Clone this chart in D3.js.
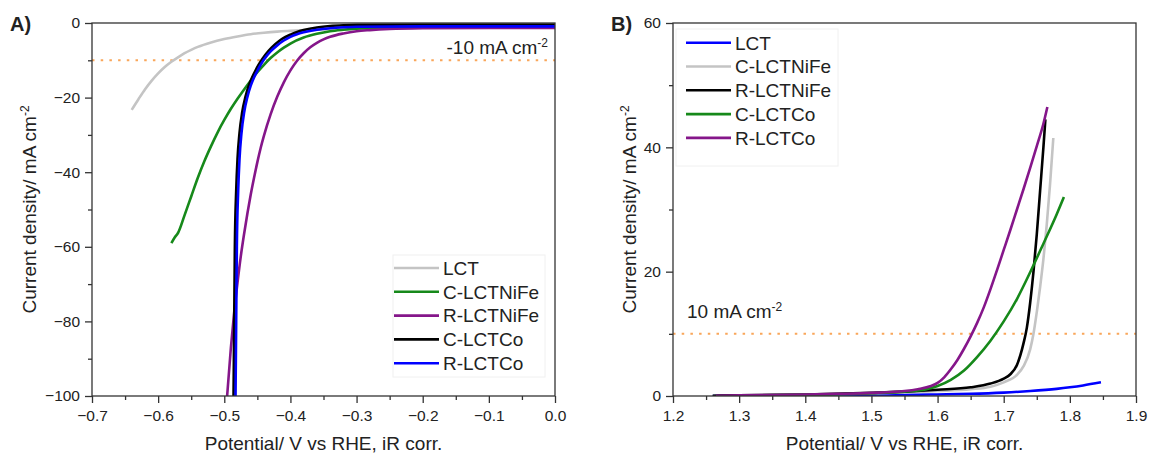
<!DOCTYPE html>
<html><head><meta charset="utf-8">
<script src="https://cdn.jsdelivr.net/npm/d3@7"></script>
<style>
body{margin:0;background:#fff}
text{font-family:Arial,"Liberation Sans",sans-serif;fill:#222}
</style>
</head><body><svg id="c" width="1150" height="454"></svg>
<script>
// ---------- DATA ----------
// Panel A (HER): [potential V, current density mA cm-2]
const herLCT = [[-0.64,-23.3],[-0.63,-20.5],[-0.62,-17.8],[-0.61,-15.5],[-0.60,-13.5],[-0.59,-11.8],[-0.58,-10.4],[-0.57,-9.2],[-0.56,-8.1],[-0.55,-7.2],[-0.54,-6.4],[-0.52,-5.2],[-0.50,-4.3],[-0.48,-3.6],[-0.46,-3.0],[-0.44,-2.6],[-0.42,-2.3],[-0.40,-2.1],[-0.35,-1.7],[-0.30,-1.4],[-0.25,-1.2],[-0.20,-1.1],[-0.10,-1.0],[0.0,-0.9]];
const herCNiFe = [[-0.58,-59],[-0.575,-57.5],[-0.57,-56.3],[-0.56,-51.5],[-0.55,-46.5],[-0.54,-41.5],[-0.53,-37],[-0.52,-33],[-0.51,-29.3],[-0.50,-26],[-0.49,-23],[-0.48,-20.3],[-0.47,-17.8],[-0.46,-15.4],[-0.45,-13.2],[-0.44,-11.2],[-0.43,-9.4],[-0.42,-7.9],[-0.41,-6.6],[-0.40,-5.5],[-0.38,-3.9],[-0.36,-2.9],[-0.34,-2.2],[-0.32,-1.8],[-0.30,-1.5],[-0.25,-1.2],[-0.20,-1.1],[0.0,-1.0]];
const herRNiFe = [[-0.4957,-100],[-0.49,-87],[-0.485,-77.5],[-0.48,-69.6],[-0.475,-62.5],[-0.47,-56.5],[-0.465,-51],[-0.46,-46],[-0.455,-41.5],[-0.45,-37.3],[-0.445,-33.5],[-0.44,-30.2],[-0.43,-24.5],[-0.42,-19.8],[-0.41,-15.9],[-0.40,-12.7],[-0.39,-10.1],[-0.38,-8.1],[-0.37,-6.5],[-0.36,-5.3],[-0.35,-4.4],[-0.34,-3.7],[-0.32,-2.8],[-0.30,-2.2],[-0.28,-1.9],[-0.25,-1.6],[-0.20,-1.4],[-0.10,-1.3],[0.0,-1.3]];
const herCCo = [[-0.486,-100],[-0.485,-80],[-0.484,-60],[-0.482,-45],[-0.480,-36.5],[-0.477,-29.5],[-0.473,-24],[-0.468,-19.8],[-0.463,-16.8],[-0.458,-14.6],[-0.453,-12.8],[-0.448,-11.2],[-0.443,-9.8],[-0.433,-7.5],[-0.423,-5.7],[-0.413,-4.3],[-0.40,-3.1],[-0.39,-2.4],[-0.38,-1.9],[-0.36,-1.2],[-0.34,-0.8],[-0.32,-0.6],[-0.30,-0.5],[-0.20,-0.4],[0.0,-0.4]];
const herRCo = [[-0.483,-100],[-0.482,-80],[-0.481,-60],[-0.479,-45],[-0.477,-36.5],[-0.474,-29.5],[-0.470,-24],[-0.465,-19.8],[-0.46,-16.8],[-0.455,-14.6],[-0.45,-12.8],[-0.445,-11.2],[-0.44,-9.8],[-0.435,-8.6],[-0.43,-7.6],[-0.42,-6.0],[-0.41,-4.7],[-0.40,-3.7],[-0.39,-3.0],[-0.38,-2.5],[-0.36,-1.8],[-0.34,-1.4],[-0.32,-1.15],[-0.30,-1.0],[-0.20,-0.9],[0.0,-0.9]];

// Panel B (OER)
const oerLCT = [[1.26,0.0],[1.4,0.05],[1.5,0.1],[1.6,0.25],[1.65,0.35],[1.7,0.55],[1.74,0.8],[1.78,1.15],[1.8,1.4],[1.82,1.7],[1.847,2.2]];
const oerCNiFe = [[1.3,0.1],[1.4,0.2],[1.5,0.4],[1.6,0.8],[1.65,1.1],[1.68,1.5],[1.70,2.2],[1.72,3.4],[1.73,4.8],[1.74,7.5],[1.745,10],[1.75,13.5],[1.755,17.5],[1.76,22],[1.765,27.5],[1.77,34],[1.775,41.5]];
const oerRNiFe = [[1.26,0.05],[1.3,0.1],[1.4,0.25],[1.5,0.5],[1.55,0.7],[1.6,1.0],[1.65,1.4],[1.68,2.0],[1.70,2.8],[1.71,3.5],[1.72,5.0],[1.73,8.5],[1.735,11],[1.74,15],[1.745,20],[1.75,26],[1.755,33],[1.76,40],[1.763,44.5]];
const oerCCo = [[1.32,0.1],[1.4,0.2],[1.5,0.45],[1.55,0.7],[1.58,1.0],[1.60,1.6],[1.62,2.6],[1.64,4.1],[1.66,6.3],[1.68,8.9],[1.70,12.0],[1.72,15.6],[1.74,19.9],[1.76,24.5],[1.78,29.2],[1.791,32]];
const oerRCo = [[1.265,0.05],[1.3,0.1],[1.4,0.25],[1.45,0.35],[1.5,0.5],[1.55,0.8],[1.57,1.1],[1.59,1.6],[1.60,2.1],[1.61,3.0],[1.62,4.3],[1.63,5.8],[1.64,7.6],[1.65,9.6],[1.66,11.8],[1.67,14.3],[1.68,17.2],[1.69,20.3],[1.70,23.5],[1.71,26.7],[1.72,30],[1.73,33.3],[1.74,36.7],[1.75,40.2],[1.76,43.8],[1.766,46.5]];

const seriesNames = ["LCT","C-LCTNiFe","R-LCTNiFe","C-LCTCo","R-LCTCo"];
const herColors = ["#c4c4c4","#16891a","#85168a","#000000","#0000ff"];
const oerColors = ["#0000ff","#c4c4c4","#000000","#16891a","#85168a"];

const herXTicks = [-0.7,-0.6,-0.5,-0.4,-0.3,-0.2,-0.1,0.0];
const herYTicks = [0,-20,-40,-60,-80,-100];
const oerXTicks = [1.2,1.3,1.4,1.5,1.6,1.7,1.8,1.9];
const oerYTicks = [0,20,40,60];
const herRef = -10, oerRef = 10;
const herRefLabel = "-10 mA cm", oerRefLabel = "10 mA cm";
const xTitle = "Potential/ V vs RHE, iR corr.";
const yTitle = "Current density/ mA cm";

// ---------- DRAW ----------
const svg = d3.select("#c");
const AX = "#333";

function supText(sel, main, sup, supSize){
  sel.append("tspan").text(main);
  sel.append("tspan").attr("dy",-7).attr("font-size",supSize).text(sup);
}

function panel(o){
  const x = d3.scaleLinear().domain(o.xDomain).range([o.L,o.R]);
  const y = d3.scaleLinear().domain(o.yDomain).range([o.B,o.T]);
  const g = svg.append("g");
  const clipId = "clip"+o.id;
  svg.append("clipPath").attr("id",clipId).append("rect")
    .attr("x",o.L).attr("y",o.T).attr("width",o.R-o.L).attr("height",o.B-o.T);

  // reference line
  g.append("line").attr("x1",o.L).attr("x2",o.R).attr("y1",y(o.ref)).attr("y2",y(o.ref))
    .attr("stroke","#f9a65a").attr("stroke-width",2).attr("stroke-dasharray","2.5,6.2");
  const rt = g.append("text").attr("x",o.refX).attr("y",o.refY).attr("font-size",19)
    .attr("text-anchor",o.refAnchor);
  supText(rt,o.refLabel,"-2",12);

  // curves
  const line = d3.line().x(d=>x(d[0])).y(d=>y(d[1])).curve(d3.curveMonotoneX);
  const cg = g.append("g").attr("clip-path",`url(#${clipId})`);
  o.order.forEach(i=>{
    cg.append("path").datum(o.data[i]).attr("d",line).attr("fill","none")
      .attr("stroke",o.colors[i]).attr("stroke-width",2.6).attr("stroke-linejoin","round");
  });

  // axes
  const fmtX = d3.format(".1f"), fmtY = d3.format("d");
  const step = o.xTicks[1]-o.xTicks[0];
  const xMinor = o.xTicks.slice(0,-1).map(v=>v+step/2);
  const ystep = o.yTicks[1]-o.yTicks[0];
  const yMinor = o.yTicks.slice(0,-1).map(v=>v+ystep/2);
  const xa = g.append("g").attr("transform",`translate(0,${o.B})`)
    .call(d3.axisBottom(x).tickValues(o.xTicks).tickSize(7).tickPadding(7).tickFormat(fmtX));
  const xm = g.append("g").attr("transform",`translate(0,${o.B})`)
    .call(d3.axisBottom(x).tickValues(xMinor).tickSize(4).tickFormat(""));
  const ya = g.append("g").attr("transform",`translate(${o.L},0)`)
    .call(d3.axisLeft(y).tickValues(o.yTicks).tickSize(7).tickPadding(5).tickFormat(fmtY));
  const ym = g.append("g").attr("transform",`translate(${o.L},0)`)
    .call(d3.axisLeft(y).tickValues(yMinor).tickSize(4).tickFormat(""));
  [xa,xm,ya,ym].forEach(a=>{
    a.select(".domain").remove();
    a.selectAll("line").attr("stroke",AX).attr("stroke-width",1.3);
    a.selectAll("text").attr("font-size",15.5).attr("font-family","Arial, 'Liberation Sans', sans-serif").attr("fill","#222");
  });
  g.append("rect").attr("x",o.L).attr("y",o.T).attr("width",o.R-o.L).attr("height",o.B-o.T)
    .attr("fill","none").attr("stroke",AX).attr("stroke-width",1.3);

  // titles
  g.append("text").attr("x",(o.L+o.R)/2).attr("y",450).attr("text-anchor","middle")
    .attr("font-size",19).text(xTitle);
  const yt = g.append("text").attr("transform",`translate(${o.yTitleX},${(o.T+o.B)/2}) rotate(-90)`)
    .attr("text-anchor","middle").attr("font-size",19);
  supText(yt,yTitle,"-2",12);
  g.append("text").attr("x",o.tagX).attr("y",31).attr("font-size",20).attr("font-weight","bold")
    .attr("fill","#000").text(o.tag);

  // legend
  const lg = g.append("g");
  lg.append("rect").attr("x",o.legX).attr("y",o.legY).attr("width",o.legW).attr("height",o.legH)
    .attr("fill","#fff").attr("stroke","#f0f0f0").attr("stroke-width",1);
  seriesNames.forEach((n,i)=>{
    const yy = o.legRow0 + i*23.8;
    lg.append("line").attr("x1",o.legLine0).attr("x2",o.legLine0+45).attr("y1",yy).attr("y2",yy)
      .attr("stroke",o.colors[i]).attr("stroke-width",2.6);
    lg.append("text").attr("x",o.legLine0+49).attr("y",yy).attr("dy","0.36em")
      .attr("font-size",19).text(n);
  });
}

panel({id:"A",L:92,R:555,T:23,B:396,xDomain:[-0.7,0],yDomain:[-100,0],
  xTicks:herXTicks,yTicks:herYTicks,data:[herLCT,herCNiFe,herRNiFe,herCCo,herRCo],
  colors:herColors,order:[0,1,2,3,4],ref:herRef,refLabel:herRefLabel,refX:548,refY:54,refAnchor:"end",
  yTitleX:36,tag:"A)",tagX:10,legX:393,legY:255,legW:152,legH:122,legRow0:268,legLine0:394});

panel({id:"B",L:673,R:1136,T:23,B:396,xDomain:[1.2,1.9],yDomain:[0,60],
  xTicks:oerXTicks,yTicks:oerYTicks,data:[oerLCT,oerCNiFe,oerRNiFe,oerCCo,oerRCo],
  colors:oerColors,order:[0,1,2,3,4],ref:oerRef,refLabel:oerRefLabel,refX:687,refY:318,refAnchor:"start",
  yTitleX:636,tag:"B)",tagX:611,legX:676,legY:29,legW:162,legH:137,legRow0:42.7,legLine0:686});
</script></body></html>
